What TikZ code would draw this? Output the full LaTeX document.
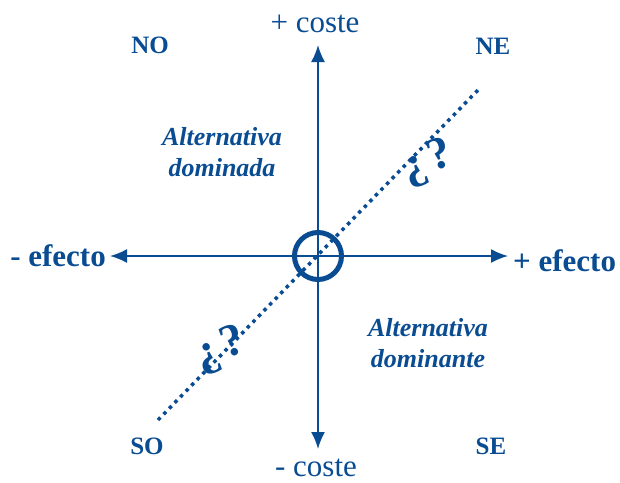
\documentclass[tikz,border=0pt]{standalone}
\usepackage{fontspec}
\setmainfont{Liberation Serif}
\usetikzlibrary{arrows.meta, positioning}
\definecolor{azul}{RGB}{10,76,146}
\tikzstyle{every node}=[text=azul, inner sep=0pt]
\tikzstyle{eje}=[draw=azul, line width=1.8pt, -{Latex[length=17pt, width=14pt]}]
\tikzstyle{cuadrante}=[font=\fontsize{25}{25}\selectfont\bfseries]
\tikzstyle{ejetxt}=[font=\fontsize{31}{31}\selectfont]
\tikzstyle{zona}=[font=\fontsize{26}{31}\selectfont\bfseries\itshape, align=center]
\tikzstyle{duda}=[font=\fontsize{46}{46}\selectfont\bfseries, rotate=20]

\begin{document}
\begin{tikzpicture}[x=1pt, y=-1pt]
    \useasboundingbox (0,0) rectangle (620,482);
    \coordinate (o) at (318,256);
    \coordinate (izq) at (110,256);
    \coordinate (der) at (508,256);
    \coordinate (arr) at (318,45);
    \coordinate (aba) at (318,449);
    \coordinate (d1) at (158,420);
    \coordinate (d2) at (478,90);
    % ejes
    \draw[eje] (o) -- (izq);
    \draw[eje] (o) -- (der);
    \draw[eje] (o) -- (arr);
    \draw[eje] (o) -- (aba);
    \node[circle, draw=azul, line width=5pt, minimum size=47pt] (c) at (o) {};
    \draw[azul, line width=3.5pt, dash pattern=on 3.5pt off 4.5pt] (d1) -- (d2);
    % textos
    \node[ejetxt] (cmas) at (315,24) {+ coste};
    \node[ejetxt] (cmenos) at (316,468) {- coste};
    \node[ejetxt, font=\fontsize{31}{31}\selectfont\bfseries, anchor=east] (emenos) at (106,256) {- efecto};
    \node[ejetxt, font=\fontsize{31}{31}\selectfont\bfseries, anchor=west] (emas) at (513,261) {+ efecto};
    \node[cuadrante] (no) at (150,45) {NO};
    \node[cuadrante] (ne) at (493,46) {NE};
    \node[cuadrante] (so) at (147,446) {SO};
    \node[cuadrante] (se) at (491,446) {SE};
    \node[zona] (dda) at (222,152) {Alternativa\\dominada};
    \node[zona] (dte) at (428,343) {Alternativa\\dominante};
    \node[duda] (q1) at (428,163) {¿\hspace{5pt}?};
    \node[duda] (q2) at (221,350) {¿\hspace{5pt}?};
\end{tikzpicture}
\end{document}
